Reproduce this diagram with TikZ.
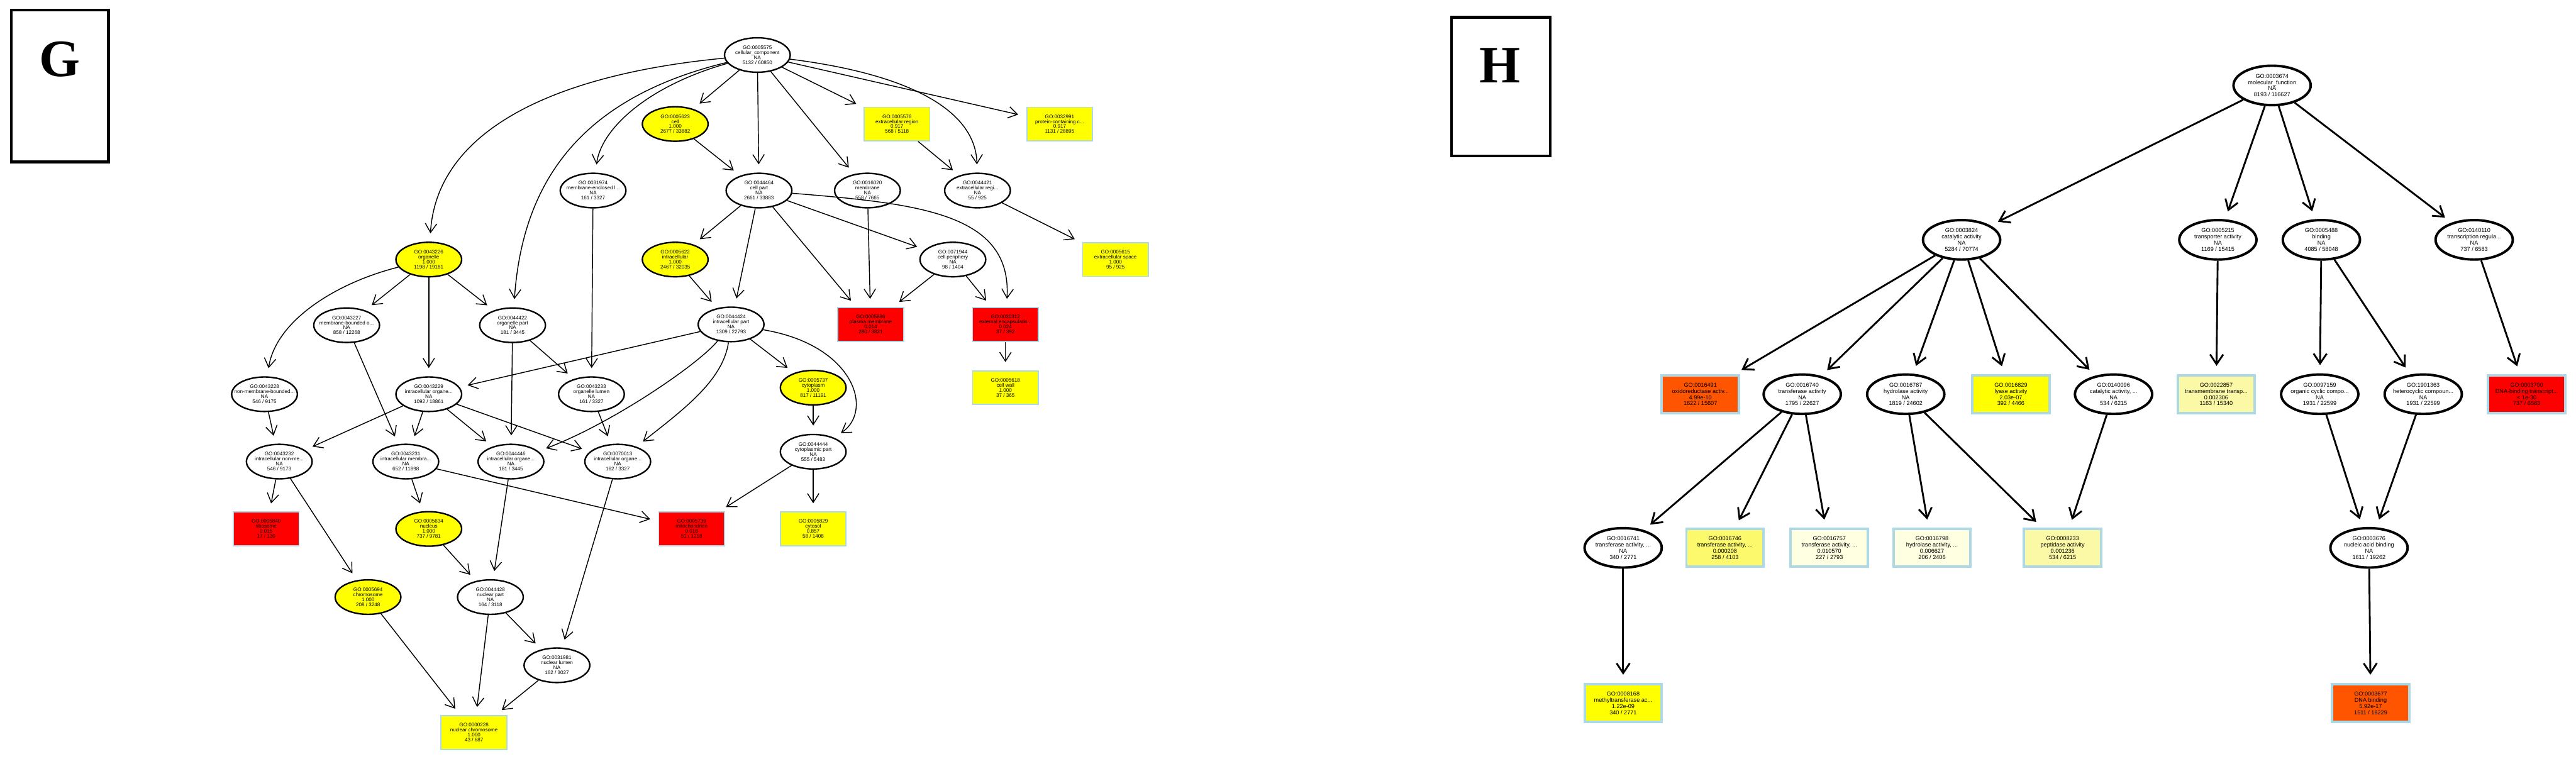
\documentclass[tikz,border=0pt]{standalone}
\usepackage{fontspec}
\setmainfont{Liberation Sans}
\newfontfamily\lblfont{Liberation Serif}
\usetikzlibrary{shapes.geometric,arrows.meta}
\definecolor{lblue}{HTML}{ADD8E6}
\definecolor{gyel}{HTML}{FFFF00}
\definecolor{gred}{HTML}{FF0000}
\definecolor{horange}{HTML}{FF5500}
\definecolor{hpale}{HTML}{FCF9A6}
\definecolor{hmid}{HTML}{FCF96C}
\definecolor{hvpale}{HTML}{FFFFE2}
\tikzset{
  gell/.style={ellipse, draw=black, line width=0.9pt, minimum width=40pt, minimum height=21pt, inner sep=0pt, fill=white},
  gbox/.style={rectangle, draw=lblue, line width=0.7pt, minimum width=40pt, minimum height=20.5pt, inner sep=0pt, align=center, font=\fontsize{3.1}{3.05}\selectfont},
  gt/.style={align=center, font=\fontsize{3.1}{3.05}\selectfont, inner sep=0pt},
  gedge/.style={line width=0.55pt, -{Straight Barb[length=5.5pt,width=7pt]}, shorten >=5pt},
  hell/.style={ellipse, draw=black, line width=1.5pt, minimum width=47pt, minimum height=24pt, inner sep=0pt, fill=white},
  hbox/.style={rectangle, draw=lblue, line width=1.5pt, minimum width=47pt, minimum height=23pt, inner sep=0pt, align=center, font=\fontsize{3.5}{3.8}\selectfont},
  ht/.style={align=center, font=\fontsize{3.5}{3.8}\selectfont, inner sep=0pt},
  hedge/.style={line width=1.1pt, -{Straight Barb[length=6pt,width=8pt]}, shorten >=5pt},
  panelbox/.style={draw=black, line width=1.6pt, fill=white, inner sep=0pt},
  panellet/.style={font=\lblfont\bfseries\fontsize{32}{32}\selectfont, inner sep=0pt}
}
\newcommand{\GE}[4]{\node[gell,#1,label={[gt]center:{#4}}] (#2) at (#3) {};}
\newcommand{\GB}[4]{\node[gbox,#1] (#2) at (#3) {#4};}
\newcommand{\HE}[4]{\node[hell,#1,label={[ht]center:{#4}}] (#2) at (#3) {};}
\newcommand{\HB}[4]{\node[hbox,#1] (#2) at (#3) {#4};}
\begin{document}
\begin{tikzpicture}[x=1pt,y=-1pt]
\useasboundingbox (0,0) rectangle (1568,462);
\fill[white] (0,0) rectangle (1568,462);

% panel labels
\node[panelbox, minimum width=59pt, minimum height=92.5pt] (gpanel) at (36.5,52.3) {};
\node[panellet] (glet) at (36.5,36) {G};
\node[panelbox, minimum width=60pt, minimum height=84.5pt] (hpanel) at (913.5,52.8) {};
\node[panellet] (hlet) at (913,40) {H};

% ---------------- G ----------------
\GE{}{root}{461,33.5}{GO:0005575\\cellular\_component\\NA\\5132 / 60850}
\GE{fill=gyel}{cell}{411,75.5}{GO:0005623\\cell\\1.000\\2677 / 33882}
\GB{fill=gyel}{extreg}{546,75.5}{GO:0005576\\extracellular region\\0.917\\568 / 5118}
\GB{fill=gyel}{pcc}{645,75.5}{GO:0032991\\protein-containing c...\\0.917\\1131 / 28895}
\GE{}{mel}{361,116}{GO:0031974\\membrane-enclosed l...\\NA\\161 / 3327}
\GE{}{cellpart}{462,116}{GO:0044464\\cell part\\NA\\2661 / 33883}
\GE{}{membrane}{528,116}{GO:0016020\\membrane\\NA\\558 / 7665}
\GE{}{extregpart}{595,116}{GO:0044421\\extracellular regi...\\NA\\55 / 925}
\GE{fill=gyel}{organelle}{261,158}{GO:0043226\\organelle\\1.000\\1198 / 19181}
\GE{fill=gyel}{intracell}{411,158}{GO:0005622\\intracellular\\1.000\\2467 / 32035}
\GE{}{periph}{580,158}{GO:0071944\\cell periphery\\NA\\98 / 1404}
\GB{fill=gyel}{extspace}{679,158}{GO:0005615\\extracellular space\\1.000\\95 / 925}
\GE{}{mbo}{211,198}{GO:0043227\\membrane-bounded o...\\NA\\858 / 12268}
\GE{}{orgpart}{312,198}{GO:0044422\\organelle part\\NA\\181 / 3445}
\GE{}{intrapart}{445,197.5}{GO:0044424\\intracellular part\\NA\\1309 / 22793}
\GB{fill=gred}{pm}{530,197.5}{GO:0005886\\plasma membrane\\0.014\\280 / 3821}
\GB{fill=gred}{ees}{612,197.5}{GO:0030312\\external encapsulatin...\\0.024\\37 / 392}
\GE{}{nmbo}{161,240}{GO:0043228\\non-membrane-bounded...\\NA\\546 / 9175}
\GE{}{io}{261,240}{GO:0043229\\intracellular organe...\\NA\\1092 / 18861}
\GE{}{orglumen}{360,240}{GO:0043233\\organelle lumen\\NA\\161 / 3327}
\GE{fill=gyel}{cytoplasm}{495,236}{GO:0005737\\cytoplasm\\1.000\\817 / 11191}
\GB{fill=gyel}{cellwall}{612,236}{GO:0005618\\cell wall\\1.000\\37 / 365}
\GE{}{inmbo}{170,281}{GO:0043232\\intracellular non-me...\\NA\\546 / 9173}
\GE{}{imbo}{247,281}{GO:0043231\\intracellular membra...\\NA\\652 / 11898}
\GE{}{iop}{311,281}{GO:0044446\\intracellular organe...\\NA\\181 / 3445}
\GE{}{iol}{376,281}{GO:0070013\\intracellular organe...\\NA\\162 / 3327}
\GE{}{cytpart}{495,275}{GO:0044444\\cytoplasmic part\\NA\\555 / 5483}
\GB{fill=gred}{ribo}{162,322}{GO:0005840\\ribosome\\0.015\\17 / 130}
\GE{fill=gyel}{nucleus}{261,322}{GO:0005634\\nucleus\\1.000\\737 / 9781}
\GB{fill=gred}{mito}{421,322}{GO:0005739\\mitochondrion\\0.018\\51 / 1218}
\GB{fill=gyel}{cytosol}{495,322}{GO:0005829\\cytosol\\0.857\\58 / 1408}
\GE{fill=gyel}{chrom}{224,363.5}{GO:0005694\\chromosome\\1.000\\208 / 3248}
\GE{}{nucpart}{298.5,363.5}{GO:0044428\\nuclear part\\NA\\164 / 3118}
\GE{}{nuclumen}{339,405}{GO:0031981\\nuclear lumen\\NA\\162 / 3027}
\GB{fill=gyel}{nucchrom}{288.5,446}{GO:0000228\\nuclear chromosome\\1.000\\43 / 687}

% G edges
\draw[gedge] (root) .. controls (340,45) and (266,78) .. (organelle);
\draw[gedge] (root) .. controls (395,52) and (366,78) .. (mel);
\draw[gedge] (root) .. controls (352,60) and (318,112) .. (orgpart);
\draw[gedge] (root) -- (cell);
\draw[gedge] (root) -- (cellpart);
\draw[gedge] (root) -- (membrane);
\draw[gedge] (root) -- (extreg);
\draw[gedge] (root) .. controls (560,46) and (594,70) .. (extregpart);
\draw[gedge] (root) -- (pcc);
\draw[gedge] (cell) -- (cellpart);
\draw[gedge] (extreg) -- (extregpart);
\draw[gedge] (extregpart) -- (extspace);
\draw[gedge] (cellpart) -- (intracell);
\draw[gedge] (cellpart) -- (intrapart);
\draw[gedge] (cellpart) -- (pm);
\draw[gedge] (cellpart) -- (periph);
\draw[gedge] (cellpart) .. controls (560,124) and (616,130) .. (ees);
\draw[gedge] (membrane) -- (pm);
\draw[gedge] (periph) -- (pm);
\draw[gedge] (periph) -- (ees);
\draw[gedge] (ees) -- (cellwall);
\draw[gedge] (intracell) -- (intrapart);
\draw[gedge] (mel) -- (orglumen);
\draw[gedge] (organelle) .. controls (205,172) and (168,195) .. (nmbo);
\draw[gedge] (organelle) -- (mbo);
\draw[gedge] (organelle) -- (io);
\draw[gedge] (organelle) -- (orgpart);
\draw[gedge] (orgpart) -- (orglumen);
\draw[gedge] (orgpart) -- (iop);
\draw[gedge] (intrapart) -- (io);
\draw[gedge] (intrapart) .. controls (425,222) and (372,258) .. (iop);
\draw[gedge] (intrapart) .. controls (440,232) and (415,250) .. (iol);
\draw[gedge] (intrapart) -- (cytoplasm);
\draw[gedge] (intrapart) .. controls (520,210) and (532,250) .. (cytpart);
\draw[gedge] (mbo) -- (imbo);
\draw[gedge] (nmbo) -- (inmbo);
\draw[gedge] (io) -- (inmbo);
\draw[gedge] (io) -- (imbo);
\draw[gedge] (io) -- (iop);
\draw[gedge] (io) -- (iol);
\draw[gedge] (orglumen) -- (iol);
\draw[gedge] (cytoplasm) -- (cytpart);
\draw[gedge] (inmbo) -- (ribo);
\draw[gedge] (inmbo) -- (chrom);
\draw[gedge] (imbo) -- (nucleus);
\draw[gedge] (imbo) -- (mito);
\draw[gedge] (iop) -- (nucpart);
\draw[gedge] (iol) -- (nuclumen);
\draw[gedge] (cytpart) -- (mito);
\draw[gedge] (cytpart) -- (cytosol);
\draw[gedge] (nucleus) -- (nucpart);
\draw[gedge] (nucpart) -- (nuclumen);
\draw[gedge] (nucpart) -- (nucchrom);
\draw[gedge] (chrom) -- (nucchrom);
\draw[gedge] (nuclumen) -- (nucchrom);

% ---------------- H ----------------
\HE{}{hroot}{1383,52}{GO:0003674\\molecular\_function\\NA\\8193 / 116627}
\HE{}{cat}{1194,146}{GO:0003824\\catalytic activity\\NA\\5284 / 70774}
\HE{}{transp}{1350,146}{GO:0005215\\transporter activity\\NA\\1169 / 15415}
\HE{}{binding}{1413,146}{GO:0005488\\binding\\NA\\4085 / 58048}
\HE{}{txreg}{1506,146}{GO:0140110\\transcription regula...\\NA\\737 / 6583}
\HB{fill=horange}{oxido}{1035,240}{GO:0016491\\oxidoreductase activ...\\4.99e-10\\1622 / 15607}
\HE{}{transf}{1097,240}{GO:0016740\\transferase activity\\NA\\1795 / 22627}
\HE{}{hydro}{1160,240}{GO:0016787\\hydrolase activity\\NA\\1819 / 24602}
\HB{fill=gyel}{lyase}{1224,240}{GO:0016829\\lyase activity\\2.03e-07\\392 / 4466}
\HE{}{catprot}{1286.5,240}{GO:0140096\\catalytic activity, ...\\NA\\534 / 6215}
\HB{fill=hpale}{tmt}{1349,240}{GO:0022857\\transmembrane transp...\\0.002306\\1163 / 15340}
\HE{}{orgcyc}{1412,240}{GO:0097159\\organic cyclic compo...\\NA\\1931 / 22599}
\HE{}{hetcyc}{1475,240}{GO:1901363\\heterocyclic compoun...\\NA\\1931 / 22599}
\HB{fill=gred}{dbtf}{1538,240}{GO:0003700\\DNA-binding transcript...\\\textless{} 1e-30\\737 / 6583}
\HE{}{tr1}{988,333.5}{GO:0016741\\transferase activity, ...\\NA\\340 / 2771}
\HB{fill=hmid}{tr2}{1050,333.5}{GO:0016746\\transferase activity, ...\\0.000208\\258 / 4103}
\HB{fill=hvpale}{tr3}{1113.5,333.5}{GO:0016757\\transferase activity, ...\\0.010570\\227 / 2793}
\HB{fill=hvpale}{hy1}{1176,333.5}{GO:0016798\\hydrolase activity, ...\\0.006627\\206 / 2406}
\HB{fill=hpale}{pep}{1255.5,333.5}{GO:0008233\\peptidase activity\\0.001236\\534 / 6215}
\HE{}{nab}{1442,333.5}{GO:0003676\\nucleic acid binding\\NA\\1611 / 19262}
\HB{fill=gyel}{meth}{988,428}{GO:0008168\\methyltransferase ac...\\1.22e-09\\340 / 2771}
\HB{fill=horange}{dnab}{1443,428}{GO:0003677\\DNA binding\\5.92e-17\\1511 / 18229}

% H edges
\draw[hedge] (hroot) -- (cat);
\draw[hedge] (hroot) -- (transp);
\draw[hedge] (hroot) -- (binding);
\draw[hedge] (hroot) -- (txreg);
\draw[hedge] (cat) -- (oxido);
\draw[hedge] (cat) -- (transf);
\draw[hedge] (cat) -- (hydro);
\draw[hedge] (cat) -- (lyase);
\draw[hedge] (cat) -- (catprot);
\draw[hedge] (transp) -- (tmt);
\draw[hedge] (binding) -- (orgcyc);
\draw[hedge] (binding) -- (hetcyc);
\draw[hedge] (txreg) -- (dbtf);
\draw[hedge] (transf) -- (tr1);
\draw[hedge] (transf) -- (tr2);
\draw[hedge] (transf) -- (tr3);
\draw[hedge] (hydro) -- (hy1);
\draw[hedge] (hydro) -- (pep);
\draw[hedge] (catprot) -- (pep);
\draw[hedge] (tr1) -- (meth);
\draw[hedge] (orgcyc) -- (nab);
\draw[hedge] (hetcyc) -- (nab);
\draw[hedge] (nab) -- (dnab);
\end{tikzpicture}
\end{document}
